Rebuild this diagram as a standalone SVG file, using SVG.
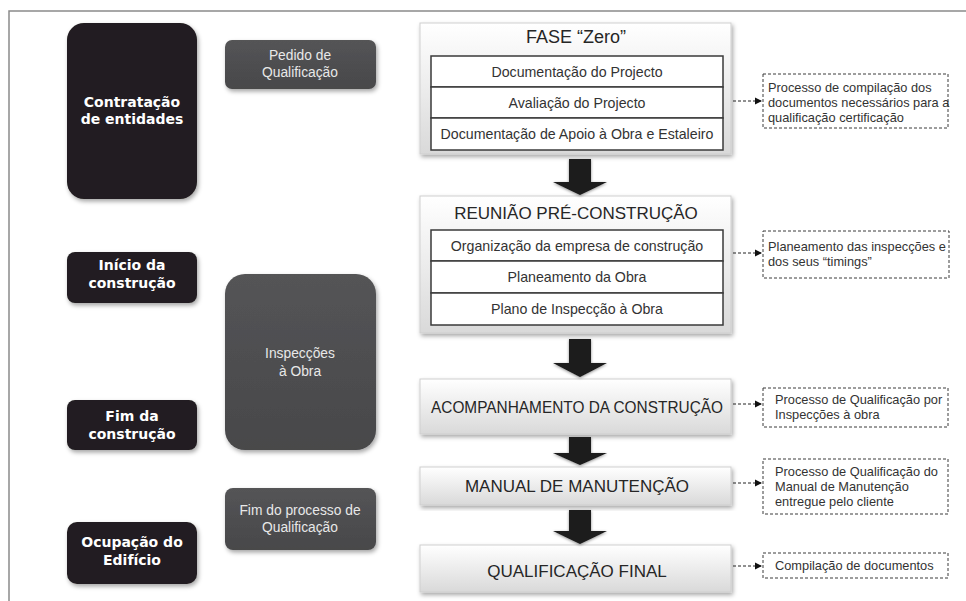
<svg xmlns="http://www.w3.org/2000/svg" width="966" height="601" viewBox="0 0 966 601">
<defs>
<style>
.blk{fill:#231f20;}
.gry{fill:url(#gGray);}
.bt{font-family:"DejaVu Sans",sans-serif;font-weight:bold;font-size:14px;fill:#ffffff;text-anchor:middle;}
.gt{font-family:"Liberation Sans",Arial,sans-serif;font-size:13.8px;fill:#e8e8e8;text-anchor:middle;}
.ph{fill:url(#gPhase);stroke:#cfcfcf;stroke-width:1;}
.row{fill:#ffffff;stroke:#3a3a3a;stroke-width:1.5;}
.pt{font-family:"Liberation Sans",Arial,sans-serif;font-size:17px;fill:#262626;text-anchor:middle;}
.rt{font-family:"Liberation Sans",Arial,sans-serif;font-size:14.2px;fill:#333333;text-anchor:middle;}
.db{fill:#ffffff;stroke:#3a3a3a;stroke-width:1;stroke-dasharray:3,2;}
.dt{font-family:"Liberation Sans",Arial,sans-serif;font-size:12.8px;fill:#333333;}
.dl{stroke:#222;stroke-width:1;stroke-dasharray:3,2;fill:none;marker-end:url(#ah);}
.ar{fill:#1a1a1a;}
</style>
<linearGradient id="gPhase" x1="0" y1="0" x2="0" y2="1">
<stop offset="0" stop-color="#ffffff"/>
<stop offset="1" stop-color="#d9d9d9"/>
</linearGradient>
<linearGradient id="gGray" x1="0" y1="0" x2="0" y2="1">
<stop offset="0" stop-color="#545456"/>
<stop offset="1" stop-color="#48484a"/>
</linearGradient>
<filter id="sh" x="-10%" y="-10%" width="125%" height="125%">
<feDropShadow dx="1.5" dy="2.5" stdDeviation="2" flood-color="#000" flood-opacity="0.35"/>
</filter>
<filter id="ash" x="-30%" y="-30%" width="160%" height="160%">
<feDropShadow dx="0" dy="1" stdDeviation="1.5" flood-color="#000" flood-opacity="0.45"/>
</filter>
<marker id="ah" markerWidth="8" markerHeight="8" refX="7" refY="4" orient="auto" markerUnits="userSpaceOnUse">
<path d="M0,0.5 L7,4 L0,7.5 Z" fill="#111"/>
</marker>
</defs>
<rect x="0" y="0" width="966" height="601" fill="#ffffff"/>
<g id="frame" stroke="#8a8a8a" stroke-width="1.5" fill="none">
<path d="M9,601 V11 H966"/>
</g>

<g id="contratacao"><rect class="blk" x="67" y="23" width="130" height="176" rx="17" filter="url(#sh)"/>
<text class="bt" x="132" y="107">Contratação</text><text class="bt" x="132" y="124">de entidades</text></g>
<g id="inicio"><rect class="blk" x="67" y="252" width="130" height="51" rx="8" filter="url(#sh)"/>
<text class="bt" x="132" y="270">Início da</text><text class="bt" x="132" y="288">construção</text></g>
<g id="fim-construcao"><rect class="blk" x="67" y="400" width="130" height="50" rx="8" filter="url(#sh)"/>
<text class="bt" x="132" y="421">Fim da</text><text class="bt" x="132" y="439">construção</text></g>
<g id="ocupacao"><rect class="blk" x="67" y="522" width="130" height="62" rx="10" filter="url(#sh)"/>
<text class="bt" x="132" y="547">Ocupação do</text><text class="bt" x="132" y="565">Edifício</text></g>

<g id="pedido"><rect class="gry" x="225" y="40" width="151" height="49" rx="7" filter="url(#sh)"/>
<text class="gt" x="300" y="60">Pedido de</text><text class="gt" x="300" y="77">Qualificação</text></g>
<g id="inspeccoes"><rect class="gry" x="225" y="274" width="151" height="176" rx="20" filter="url(#sh)"/>
<text class="gt" x="300" y="358">Inspecções</text><text class="gt" x="300" y="376">à Obra</text></g>
<g id="fim-processo"><rect class="gry" x="225" y="488" width="151" height="62" rx="8" filter="url(#sh)"/>
<text class="gt" x="300" y="515">Fim do processo de</text><text class="gt" x="300" y="532">Qualificação</text></g>

<g id="fase-zero"><rect class="ph" x="420" y="23" width="311" height="131" filter="url(#sh)"/>
<text class="pt" x="576" y="43" style="font-size:18px">FASE “Zero”</text>
<rect class="row" x="431" y="56" width="292" height="31"/>
<rect class="row" x="431" y="87" width="292" height="31"/>
<rect class="row" x="431" y="118" width="292" height="32"/>
<text class="rt" x="577" y="77">Documentação do Projecto</text>
<text class="rt" x="577" y="108">Avaliação do Projecto</text>
<text class="rt" x="577" y="139">Documentação de Apoio à Obra e Estaleiro</text></g>

<g id="reuniao"><rect class="ph" x="420" y="196" width="311" height="137" filter="url(#sh)"/>
<text class="pt" x="576" y="219">REUNIÃO PRÉ-CONSTRUÇÃO</text>
<rect class="row" x="431" y="230" width="292" height="31"/>
<rect class="row" x="431" y="261" width="292" height="32"/>
<rect class="row" x="431" y="293" width="292" height="32"/>
<text class="rt" x="577" y="251">Organização da empresa de construção</text>
<text class="rt" x="577" y="282">Planeamento da Obra</text>
<text class="rt" x="577" y="314">Plano de Inspecção à Obra</text></g>

<g id="acompanhamento"><rect class="ph" x="420" y="379" width="311" height="55" filter="url(#sh)"/>
<text class="pt" x="577" y="413" textLength="292" lengthAdjust="spacingAndGlyphs">ACOMPANHAMENTO DA CONSTRUÇÃO</text></g>
<g id="manual"><rect class="ph" x="420" y="467" width="311" height="38" filter="url(#sh)"/>
<text class="pt" x="577" y="492">MANUAL DE MANUTENÇÃO</text></g>
<g id="qualificacao-final"><rect class="ph" x="420" y="545" width="311" height="47" filter="url(#sh)"/>
<text class="pt" x="577" y="577">QUALIFICAÇÃO FINAL</text></g>

<g id="nota-1"><rect class="db" x="763" y="74" width="185" height="54"/>
<text class="dt" x="768" y="92">Processo de compilação dos</text>
<text class="dt" x="768" y="107">documentos necessários para a</text>
<text class="dt" x="768" y="122">qualificação certificação</text></g>
<g id="nota-2"><rect class="db" x="763" y="231" width="186" height="47"/>
<text class="dt" x="768" y="251">Planeamento das inspecções e</text>
<text class="dt" x="768" y="266">dos seus “timings”</text></g>
<g id="nota-3"><rect class="db" x="763" y="388" width="185" height="39"/>
<text class="dt" x="775" y="404">Processo de Qualificação por</text>
<text class="dt" x="775" y="419">Inspecções à obra</text></g>
<g id="nota-4"><rect class="db" x="763" y="459" width="185" height="55"/>
<text class="dt" x="775" y="476">Processo de Qualificação do</text>
<text class="dt" x="775" y="491">Manual de Manutenção</text>
<text class="dt" x="775" y="506">entregue pelo cliente</text></g>
<g id="nota-5"><rect class="db" x="763" y="553" width="185" height="25"/>
<text class="dt" x="775" y="570">Compilação de documentos</text></g>

<g id="connectors">
<polygon class="ar" filter="url(#ash)" points="569,159 591,159 591,182 607,182 580,195 553,182 569,182"/>
<polygon class="ar" filter="url(#ash)" points="569,339 591,339 591,363 607,363 580,377 553,363 569,363"/>
<polygon class="ar" filter="url(#ash)" points="569,437 591,437 591,453 607,453 580,465 553,453 569,453"/>
<polygon class="ar" filter="url(#ash)" points="569,510 591,510 591,531 607,531 580,544 553,531 569,531"/>
<path class="dl" d="M733,101 H762"/>
<path class="dl" d="M733,253 H762"/>
<path class="dl" d="M733,404 H762"/>
<path class="dl" d="M733,483 H762"/>
<path class="dl" d="M733,566 H762"/>
</g>
</svg>
